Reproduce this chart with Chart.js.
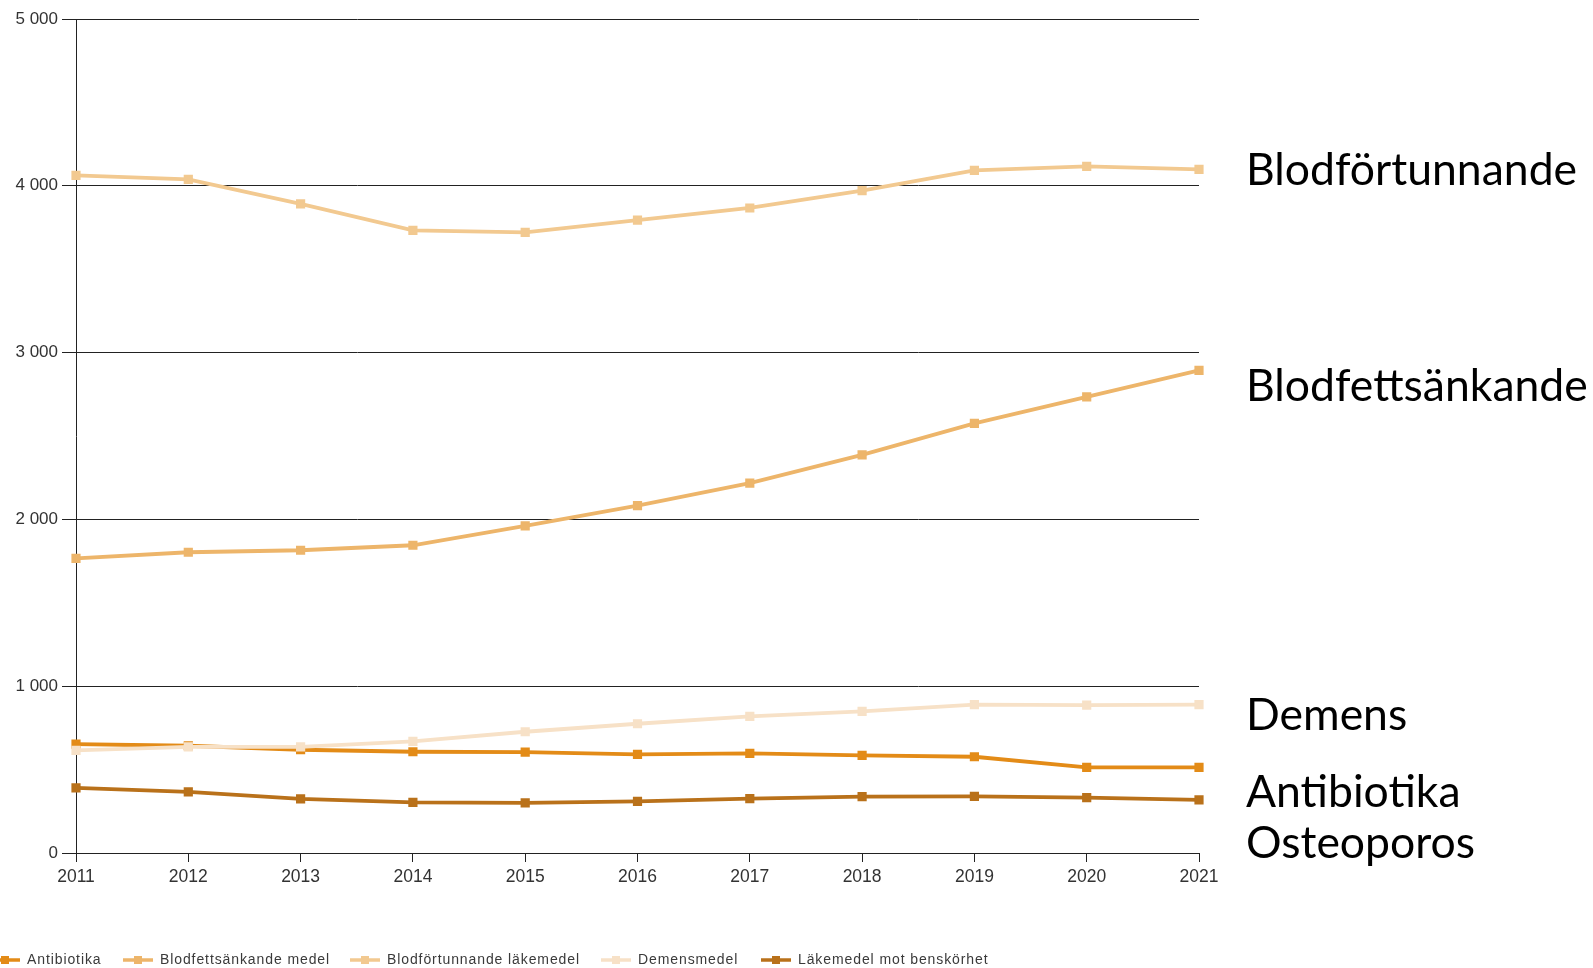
<!DOCTYPE html>
<html lang="sv">
<head>
<meta charset="utf-8">
<title>Läkemedelsanvändning 2011–2021</title>
<script src="https://cdn.jsdelivr.net/npm/chart.js@4/dist/chart.umd.min.js"></script>
<style>
  html, body { margin: 0; padding: 0; background: #fff; overflow: hidden; }
  #wrap { position: relative; width: 1593px; height: 968px; }
  canvas { position: absolute; left: 0; top: 0; }
  .tag {
    position: absolute; left: 1246px;
    font-family: Lato, "Noto Sans", sans-serif; font-size: 44.5px;
    color: #000; line-height: 1; white-space: nowrap;
    transform: translateY(-50%);
  }
</style>
</head>
<body>
<div id="wrap">
  <canvas id="chart" width="1593" height="968"></canvas>
  <div class="tag" style="top:168px">Blodförtunnande</div>
  <div class="tag" style="top:384px">Blodfettsänkande</div>
  <div class="tag" style="top:713px">Demens</div>
  <div class="tag" style="top:790px">Antibiotika</div>
  <div class="tag" style="top:841px">Osteoporos</div>
</div>
<script>
// Years on the x axis
const years = ['2011', '2012', '2013', '2014', '2015', '2016', '2017', '2018', '2019', '2020', '2021'];

// Series values per year
const antibiotika     = [653, 643, 619, 607, 605, 591, 597, 585, 577, 513, 513];
const blodfett        = [1766, 1803, 1815, 1845, 1961, 2083, 2217, 2387, 2576, 2734, 2893];
const blodfortunnande = [4062, 4038, 3892, 3733, 3721, 3794, 3867, 3971, 4093, 4117, 4099];
const demens          = [615, 636, 636, 669, 727, 775, 819, 849, 889, 887, 889];
const benskorhet      = [390, 366, 324, 303, 300, 309, 326, 338, 339, 332, 318];

// Series names shown in the legend
const seriesNames = ['Antibiotika', 'Blodfettsänkande medel', 'Blodförtunnande läkemedel', 'Demensmedel', 'Läkemedel mot benskörhet'];

// Y axis range and tick step
const yMin = 0, yMax = 5000, yStep = 1000;

const colors = ['#E38B17', '#EDB56A', '#F2C990', '#F7E1C7', '#B9711A'];
const seriesData = [antibiotika, blodfett, blodfortunnande, demens, benskorhet];
const drawOrder = [2, 3, 4, 1, 5];

const fmt = v => String(v).replace(/\B(?=(\d{3})+(?!\d))/g, ' ');

// Legend row along the bottom edge
const legendX = [27, 160, 387, 638, 798];
const bottomLegend = {
  id: 'bottomLegend',
  afterDraw(chart) {
    const ctx = chart.ctx;
    ctx.save();
    ctx.font = '14px "Liberation Sans", Arial, sans-serif';
    ctx.textBaseline = 'middle';
    if ('letterSpacing' in ctx) ctx.letterSpacing = '0.9px';
    const y = 960;
    seriesNames.forEach((name, i) => {
      const tx = legendX[i];
      const x0 = tx - 37, x1 = tx - 7;
      ctx.strokeStyle = colors[i];
      ctx.lineWidth = 3.5;
      ctx.beginPath();
      ctx.moveTo(x0, y);
      ctx.lineTo(x1, y);
      ctx.stroke();
      ctx.fillStyle = colors[i];
      ctx.fillRect((x0 + x1) / 2 - 4, y - 4, 8, 8);
      ctx.fillStyle = '#3a3a3a';
      ctx.fillText(name, tx, y + 0.5);
    });
    ctx.restore();
  }
};

new Chart(document.getElementById('chart'), {
  type: 'line',
  data: {
    labels: years,
    datasets: seriesNames.map((name, i) => ({
      label: name,
      data: seriesData[i],
      borderColor: colors[i],
      backgroundColor: colors[i],
      pointBackgroundColor: colors[i],
      pointBorderWidth: 0,
      pointStyle: 'rect',
      pointRadius: 6.5,
      borderWidth: 3.8,
      tension: 0,
      order: drawOrder[i]
    }))
  },
  options: {
    responsive: false,
    devicePixelRatio: 1,
    animation: false,
    layout: { padding: { left: 0, right: 394, top: 19, bottom: 75 } },
    plugins: { legend: { display: false }, tooltip: { enabled: false } },
    scales: {
      x: {
        offset: false,
        afterFit(s) { s.height = 40; },
        grid: { display: true, drawOnChartArea: false, tickLength: 9, color: '#222', lineWidth: 1 },
        border: { display: true, color: '#222', width: 1 },
        ticks: {
          color: '#333', padding: 5, maxRotation: 0,
          font: { family: '"Liberation Sans", Arial, sans-serif', size: 17.5 }
        }
      },
      y: {
        min: yMin, max: yMax,
        afterFit(s) { s.width = 76; },
        grid: { color: '#222', lineWidth: 1, tickLength: 14, tickColor: '#222' },
        border: { display: true, color: '#222', width: 1 },
        ticks: {
          stepSize: yStep, color: '#333', padding: 4,
          font: { family: '"Liberation Sans", Arial, sans-serif', size: 17 },
          callback: v => fmt(v)
        }
      }
    }
  },
  plugins: [bottomLegend]
});
</script>
</body>
</html>
